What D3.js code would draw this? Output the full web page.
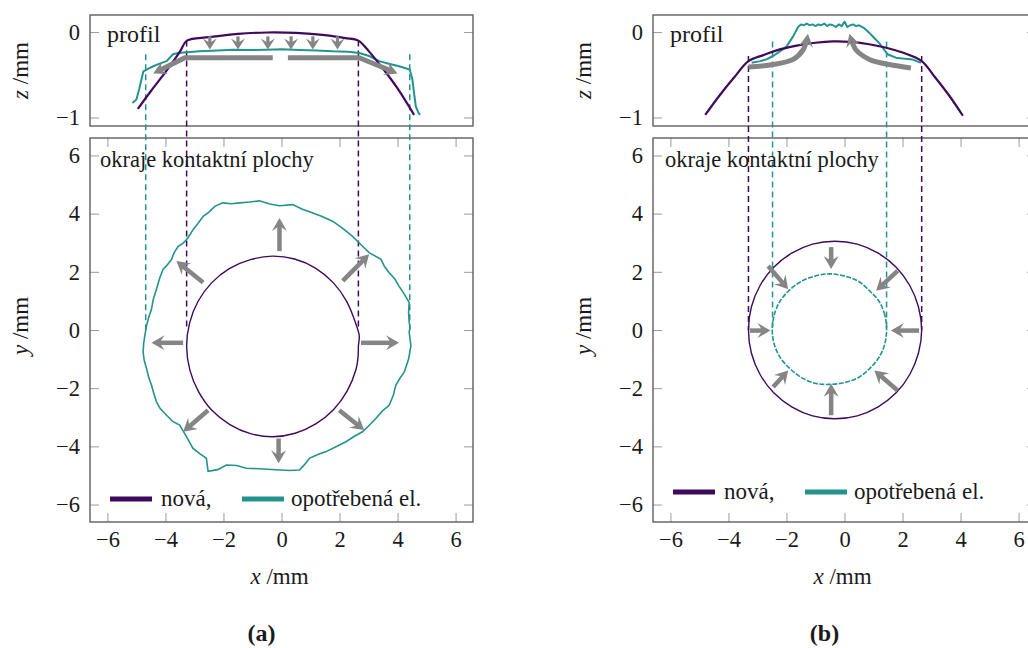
<!DOCTYPE html>
<html>
<head>
<meta charset="utf-8">
<script src="https://cdn.jsdelivr.net/npm/d3@7"></script>
<style>
  body { margin: 0; background: #fff; }
  svg text { font-family: "Liberation Serif", "Times New Roman", "DejaVu Serif", serif; fill: #1a1a1a; }
</style>
</head>
<body>
<svg id="fig" width="1028" height="648"></svg>
<script>
// ---------- tick values ----------
const xTicks = [-6, -4, -2, 0, 2, 4, 6];
const yTicks = [-6, -4, -2, 0, 2, 4, 6];
const zTicks = [-1, 0];

// ---------- panel (a): profiles ----------
const profANewX = [-4.95, -4.5, -4.0, -3.5, -3.26, -2.5, -1.5, -0.5, 0.5, 1.5, 2.2, 2.65, 3.0, 3.5, 4.0, 4.57];
const profANewZ = [-0.90, -0.69, -0.47, -0.23, -0.10, -0.06, -0.02, -0.005, -0.01, -0.035, -0.07, -0.10, -0.22, -0.43, -0.66, -0.97];
const profAWornX = [-5.14, -5.0, -4.9, -4.76, -4.6, -4.42, -4.2, -3.96, -3.74, -3.56, -2.83, -2.2, -1.68, -1.1, -0.53, 0.0, 0.62, 1.2, 1.76, 2.3, 2.68, 3.02, 3.37, 3.7, 4.05, 4.25, 4.42, 4.51, 4.57, 4.63, 4.7, 4.77];
const profAWornZ = [-0.83, -0.79, -0.66, -0.46, -0.43, -0.40, -0.37, -0.34, -0.26, -0.245, -0.225, -0.215, -0.206, -0.21, -0.206, -0.20, -0.21, -0.215, -0.225, -0.23, -0.245, -0.28, -0.34, -0.37, -0.40, -0.42, -0.44, -0.55, -0.72, -0.87, -0.93, -0.97];

// ---------- panel (a): contact-area contours ----------
const contourANew = [[2.65,-0.56],[2.68,-0.2],[2.56,0.22],[2.24,0.99],[1.79,1.62],[1.17,2.13],[0.45,2.44],[-0.31,2.54],[-1.07,2.42],[-1.80,2.11],[-2.41,1.62],[-2.88,0.98],[-3.17,0.23],[-3.27,-0.56],[-3.16,-1.37],[-2.86,-2.12],[-2.40,-2.76],[-1.78,-3.25],[-1.07,-3.56],[-0.31,-3.67],[0.47,-3.55],[1.18,-3.23],[1.79,-2.74],[2.26,-2.10],[2.57,-1.35],[2.64,-0.9]];
const contourAWorn = [[-4.65,0.15],[-4.58,0.42],[-4.48,0.72],[-4.42,1.05],[-4.31,1.40],[-4.20,1.78],[-4.08,2.09],[-3.95,2.22],[-3.79,2.43],[-3.70,2.66],[-3.56,2.88],[-3.40,2.98],[-3.27,3.11],[-3.14,3.30],[-3.05,3.45],[-2.88,3.66],[-2.70,3.91],[-2.50,4.05],[-2.30,4.25],[-2.02,4.37],[-1.72,4.34],[-1.44,4.37],[-1.10,4.40],[-0.76,4.44],[-0.40,4.33],[-0.07,4.27],[0.39,4.31],[0.70,4.16],[1.08,4.02],[1.40,3.90],[1.76,3.74],[2.10,3.50],[2.45,3.22],[2.75,2.92],[3.02,2.66],[3.43,2.43],[3.55,2.18],[3.71,1.97],[3.90,1.76],[4.05,1.51],[4.22,1.25],[4.40,0.95],[4.38,0.60],[4.40,0.27],[4.43,0.10],[4.40,-0.07],[4.46,-0.54],[4.38,-1.00],[4.23,-1.45],[4.08,-1.66],[3.94,-1.90],[3.85,-2.25],[3.71,-2.59],[3.48,-2.78],[3.25,-3.04],[3.00,-3.30],[2.79,-3.50],[2.50,-3.66],[2.22,-3.84],[1.86,-4.02],[1.54,-4.18],[1.25,-4.28],[0.96,-4.41],[0.80,-4.62],[0.62,-4.81],[0.28,-4.83],[-0.07,-4.81],[-0.62,-4.78],[-1.21,-4.75],[-1.55,-4.66],[-1.90,-4.64],[-2.20,-4.80],[-2.53,-4.86],[-2.59,-4.41],[-2.82,-4.25],[-3.05,-4.07],[-3.30,-3.62],[-3.51,-3.27],[-3.75,-3.14],[-3.96,-2.93],[-4.18,-2.70],[-4.31,-2.47],[-4.40,-2.18],[-4.48,-1.90],[-4.58,-1.62],[-4.65,-1.33],[-4.73,-1.05],[-4.77,-0.76],[-4.75,-0.46],[-4.71,-0.19]];

// edges of the contact area (x) and the extent of the guide lines (z start, y end)
const edgesANew = [-3.27, 2.65];
const edgesAWorn = [-4.68, 4.42];
const guideAZ = { new: -0.10, worn: -0.26 };

// ---------- panel (b): profiles ----------
const profBNewX = [-4.80, -4.3, -3.8, -3.31, -2.8, -2.2, -1.6, -1.0, -0.4, 0.2, 0.8, 1.4, 2.0, 2.66, 3.1, 3.6, 4.08];
const profBNewZ = [-0.97, -0.74, -0.53, -0.34, -0.27, -0.20, -0.155, -0.125, -0.11, -0.115, -0.14, -0.18, -0.24, -0.34, -0.52, -0.74, -0.98];
const profBWornX = [-3.2, -2.9, -2.69, -2.46, -2.2, -2.0, -1.77, -1.6, -1.5, -1.4, -1.3, -1.2, -1.1, -1.0, -0.9, -0.8, -0.7, -0.6, -0.5, -0.4, -0.3, -0.2, -0.1, 0.0, 0.1, 0.2, 0.3, 0.4, 0.5, 0.6, 0.7, 0.86, 1.0, 1.2, 1.48, 1.77, 2.0, 2.34, 2.63];
const profBWornZ = [-0.36, -0.34, -0.32, -0.28, -0.22, -0.17, -0.05, 0.06, 0.09, 0.08, 0.10, 0.08, 0.09, 0.07, 0.09, 0.08, 0.10, 0.07, 0.09, 0.08, 0.06, 0.09, 0.07, 0.12, 0.06, 0.08, 0.09, 0.07, 0.08, 0.06, 0.04, -0.01, -0.06, -0.13, -0.26, -0.30, -0.31, -0.32, -0.36];

// ---------- panel (b): contact-area contours ----------
const contourBNew = [[2.66,0],[2.55,0.79],[2.25,1.53],[1.78,2.16],[1.16,2.64],[0.44,2.95],[-0.33,3.05],[-1.10,2.95],[-1.82,2.64],[-2.44,2.16],[-2.91,1.53],[-3.21,0.79],[-3.31,0],[-3.21,-0.79],[-2.91,-1.53],[-2.44,-2.16],[-1.82,-2.64],[-1.10,-2.95],[-0.33,-3.05],[0.44,-2.95],[1.16,-2.64],[1.78,-2.16],[2.25,-1.53],[2.55,-0.79]];
const contourBWorn = [[1.45,0.02],[1.39,0.51],[1.19,0.99],[0.86,1.35],[0.47,1.68],[-0.02,1.86],[-0.52,1.93],[-1.03,1.85],[-1.51,1.66],[-1.92,1.35],[-2.24,0.96],[-2.42,0.52],[-2.49,0.02],[-2.43,-0.46],[-2.22,-0.94],[-1.90,-1.31],[-1.51,-1.62],[-1.03,-1.83],[-0.52,-1.87],[-0.01,-1.81],[0.47,-1.64],[0.88,-1.31],[1.20,-0.92],[1.39,-0.47]];

const edgesBNew = [-3.31, 2.66];
const edgesBWorn = [-2.48, 1.45];
const guideBZ = { new: -0.28, worn: -0.11 };

// ---------- change-direction arrows ----------
// profile (a): two thick guide arrows along the worn level, six short arrows downwards
const arrowsATop = [
  { pts: [[-0.30,-0.30],[-3.33,-0.30],[-4.42,-0.485]], w: 5, L: 13, H: 7 },
  { pts: [[0.22,-0.30],[2.68,-0.30],[4.00,-0.485]], w: 5, L: 13, H: 7 }
];
const downArrowX = [-2.47, -1.50, -0.47, 0.33, 1.08, 1.93];
const downArrowZ = [-0.05, -0.205];
// contour (a): outward growth
const arrowsABottom = [
  [[-0.07,2.71],[-0.07,3.85]],
  [[-2.70,1.63],[-3.62,2.37]],
  [[2.11,1.69],[3.02,2.60]],
  [[-3.39,-0.44],[-4.48,-0.44]],
  [[2.74,-0.44],[4.05,-0.44]],
  [[-2.53,-2.76],[-3.39,-3.50]],
  [[1.99,-2.76],[2.85,-3.44]],
  [[-0.10,-3.73],[-0.10,-4.58]]
];
// profile (b): curved arrows towards the raised centre
const arrowsBTop = [
  [[-3.31,-0.41],[-2.46,-0.38],[-1.77,-0.32],[-1.43,-0.21],[-1.29,-0.09],[-1.26,-0.02]],
  [[2.29,-0.42],[1.54,-0.38],[0.86,-0.32],[0.40,-0.21],[0.23,-0.09],[0.17,-0.02]]
];
// contour (b): inward shrinkage
const arrowsBBottom = [
  [[-0.46,2.85],[-0.46,2.10]],
  [[-2.63,2.20],[-1.94,1.40]],
  [[1.83,2.03],[1.09,1.35]],
  [[-3.26,-0.02],[-2.55,-0.02]],
  [[2.57,-0.02],[1.60,-0.02]],
  [[-2.46,-1.96],[-1.94,-1.39]],
  [[1.83,-2.08],[1.03,-1.39]],
  [[-0.46,-2.93],[-0.46,-1.85]]
];

const seriesNames = ["nová,", "opotřebená el."];

// ---------- styling ----------
const FONT = '"Liberation Serif", "Times New Roman", "DejaVu Serif", serif';
const colNew = "#3f0a5c";
const colWorn = "#23938e";
const colArrow = "#858585";
const colFrame = "#5e5e5e";
const colTick = "#9a9a9a";

const svg = d3.select("#fig");

const frameW = 383;
const topY0 = 15, topY1 = 126, botY0 = 138, botY1 = 522;

function zip(xs, zs) { return xs.map((x, i) => [x, zs[i]]); }

function drawArrow(g, pixPts, opt) {
  const n = pixPts.length;
  const tip = pixPts[n - 1], prev = pixPts[n - 2];
  let dx = tip[0] - prev[0], dy = tip[1] - prev[1];
  const len = Math.hypot(dx, dy); dx /= len; dy /= len;
  const px = -dy, py = dx;
  const shaft = pixPts.slice(0, n - 1).concat([[tip[0] - dx * opt.L * 0.6, tip[1] - dy * opt.L * 0.6]]);
  const gen = d3.line().curve(opt.curve || d3.curveLinear);
  g.append("path").attr("d", gen(shaft)).attr("fill", "none")
    .attr("stroke", colArrow).attr("stroke-width", opt.w).attr("stroke-linejoin", "round");
  const head = [
    tip,
    [tip[0] - dx * opt.L + px * opt.H, tip[1] - dy * opt.L + py * opt.H],
    [tip[0] - dx * opt.L * 0.62, tip[1] - dy * opt.L * 0.62],
    [tip[0] - dx * opt.L - px * opt.H, tip[1] - dy * opt.L - py * opt.H]
  ];
  g.append("path").attr("d", "M" + head.join("L") + "Z").attr("fill", colArrow);
}

function txt(g) {
  return g.append("text").attr("font-family", FONT).style("font-family", FONT).attr("fill", "#1a1a1a");
}

function panel(cfg) {
  const g = svg.append("g");
  const x = d3.scaleLinear().domain([-6.6, 6.6]).range([cfg.left, cfg.left + frameW]);
  const y = d3.scaleLinear().domain([-6.6, 6.6]).range([botY1, botY0]);
  const z = d3.scaleLinear().domain([-1.1, 0.2]).range([topY1, topY0]);
  const fmt = d3.format("d");

  // --- axes of the contour plot ---
  const styleAxis = sel => {
    sel.attr("font-family", FONT).attr("font-size", 22.5);
    sel.select(".domain").remove();
    sel.selectAll(".tick line").attr("stroke", colTick).attr("stroke-width", 1);
    sel.selectAll(".tick text").style("font-family", FONT).attr("font-size", 22.5).attr("fill", "#1a1a1a");
  };
  g.append("g").attr("transform", `translate(0,${botY1})`)
    .call(d3.axisBottom(x).tickValues(xTicks).tickFormat(fmt).tickSize(-9).tickPadding(9)).call(styleAxis);
  g.append("g").attr("transform", `translate(0,${botY0})`)
    .call(d3.axisTop(x).tickValues(xTicks).tickSize(-9).tickFormat("")).call(styleAxis);
  g.append("g").attr("transform", `translate(${cfg.left},0)`)
    .call(d3.axisLeft(y).tickValues(yTicks).tickFormat(fmt).tickSize(-9).tickPadding(10)).call(styleAxis);
  g.append("g").attr("transform", `translate(${cfg.left + frameW},0)`)
    .call(d3.axisRight(y).tickValues(yTicks).tickSize(-9).tickFormat("")).call(styleAxis);
  // --- axes of the profile plot ---
  g.append("g").attr("transform", `translate(${cfg.left},0)`)
    .call(d3.axisLeft(z).tickValues(zTicks).tickFormat(fmt).tickSize(-9).tickPadding(10)).call(styleAxis);
  g.append("g").attr("transform", `translate(${cfg.left + frameW},0)`)
    .call(d3.axisRight(z).tickValues(zTicks).tickSize(-9).tickFormat("")).call(styleAxis);

  // frames
  g.append("rect").attr("x", cfg.left).attr("y", topY0).attr("width", frameW).attr("height", topY1 - topY0)
    .attr("fill", "none").attr("stroke", colFrame).attr("stroke-width", 1.4);
  g.append("rect").attr("x", cfg.left).attr("y", botY0).attr("width", frameW).attr("height", botY1 - botY0)
    .attr("fill", "none").attr("stroke", colFrame).attr("stroke-width", 1.4);

  // guide lines linking profile edges to the contour
  const guides = [
    { xs: cfg.edgesNew, z0: cfg.guideZ.new, c: colNew },
    { xs: cfg.edgesWorn, z0: cfg.guideZ.worn, c: colWorn }
  ];
  guides.forEach(gd => gd.xs.forEach(xv => {
    g.append("line").attr("x1", x(xv)).attr("x2", x(xv)).attr("y1", z(gd.z0)).attr("y2", y(0))
      .attr("stroke", gd.c).attr("stroke-width", 1.5).attr("stroke-dasharray", "6 4");
  }));

  // profiles
  const lineZ = d3.line().x(d => x(d[0])).y(d => z(d[1]));
  g.append("path").attr("d", lineZ(zip(cfg.wornX, cfg.wornZ))).attr("fill", "none")
    .attr("stroke", colWorn).attr("stroke-width", 2).attr("stroke-linejoin", "round");
  g.append("path").attr("d", lineZ.curve(d3.curveCatmullRom)(zip(cfg.newX, cfg.newZ))).attr("fill", "none")
    .attr("stroke", colNew).attr("stroke-width", 2.2);

  // contours
  const lineXY = d3.line().x(d => x(d[0])).y(d => y(d[1]));
  g.append("path").attr("d", lineXY.curve(cfg.wornCurve)(cfg.contourWorn)).attr("fill", "none")
    .attr("stroke", colWorn).attr("stroke-width", 1.6).attr("stroke-dasharray", cfg.wornDash);
  g.append("path").attr("d", lineXY.curve(d3.curveCatmullRomClosed)(cfg.contourNew)).attr("fill", "none")
    .attr("stroke", colNew).attr("stroke-width", 1.4);

  // arrows
  cfg.drawArrows(g, x, y, z);

  // annotations
  txt(g).attr("x", cfg.left + 17).attr("y", 42).attr("font-size", 24).text("profil");
  txt(g).attr("x", cfg.left + cfg.noteDx).attr("y", 167).attr("font-size", 22.5).text("okraje kontaktní plochy");

  // legend
  const lg = g.append("g").attr("transform", `translate(${cfg.left},${cfg.legendY})`);
  [[colNew, seriesNames[0], 20, 71], [colWorn, seriesNames[1], 152, 201]].forEach(([c, t, lx, tx]) => {
    lg.append("line").attr("x1", lx).attr("x2", lx + 42).attr("y1", 0).attr("y2", 0)
      .attr("stroke", c).attr("stroke-width", 5);
    txt(lg).attr("x", tx).attr("y", 7).attr("font-size", 23).text(t);
  });

  // axis titles
  const cx = cfg.left + frameW / 2;
  const xt = txt(g).attr("x", cx - 2).attr("y", 584).attr("text-anchor", "middle").attr("font-size", 23);
  xt.append("tspan").attr("font-style", "italic").text("x");
  xt.append("tspan").text(" /mm");
  const zt = txt(g).attr("transform", `translate(${cfg.left - 62},${(topY0 + topY1) / 2}) rotate(-90)`)
    .attr("text-anchor", "middle").attr("font-size", 23);
  zt.append("tspan").attr("font-style", "italic").text("z");
  zt.append("tspan").text(" /mm");
  const yt = txt(g).attr("transform", `translate(${cfg.left - 62},${y(0) - 4}) rotate(-90)`)
    .attr("text-anchor", "middle").attr("font-size", 23);
  yt.append("tspan").attr("font-style", "italic").text("y");
  yt.append("tspan").text(" /mm");

  txt(g).attr("x", cx - 20).attr("y", 641).attr("text-anchor", "middle")
    .attr("font-size", 24).attr("font-weight", "bold").text(cfg.tag);
}

panel({
  left: 90, tag: "(a)", noteDx: 10, legendY: 499,
  newX: profANewX, newZ: profANewZ, wornX: profAWornX, wornZ: profAWornZ,
  contourNew: contourANew, contourWorn: contourAWorn, wornCurve: d3.curveLinearClosed, wornDash: null,
  edgesNew: edgesANew, edgesWorn: edgesAWorn, guideZ: guideAZ,
  drawArrows(g, x, y, z) {
    arrowsATop.forEach(a => drawArrow(g, a.pts.map(p => [x(p[0]), z(p[1])]), { w: a.w, L: a.L, H: a.H }));
    downArrowX.forEach(xv => drawArrow(g, downArrowZ.map(zv => [x(xv), z(zv)]), { w: 3.2, L: 11, H: 7 }));
    arrowsABottom.forEach(a => drawArrow(g, a.map(p => [x(p[0]), y(p[1])]), { w: 4.5, L: 13, H: 7.5 }));
  }
});

panel({
  left: 653, tag: "(b)", noteDx: 12, legendY: 492,
  newX: profBNewX, newZ: profBNewZ, wornX: profBWornX, wornZ: profBWornZ,
  contourNew: contourBNew, contourWorn: contourBWorn, wornCurve: d3.curveCatmullRomClosed, wornDash: "5 1.5",
  edgesNew: edgesBNew, edgesWorn: edgesBWorn, guideZ: guideBZ,
  drawArrows(g, x, y, z) {
    arrowsBTop.forEach(a => drawArrow(g, a.map(p => [x(p[0]), z(p[1])]), { w: 5, L: 13, H: 7, curve: d3.curveCatmullRom }));
    arrowsBBottom.forEach(a => drawArrow(g, a.map(p => [x(p[0]), y(p[1])]), { w: 4.5, L: 13, H: 7.5 }));
  }
});
</script>
</body>
</html>
